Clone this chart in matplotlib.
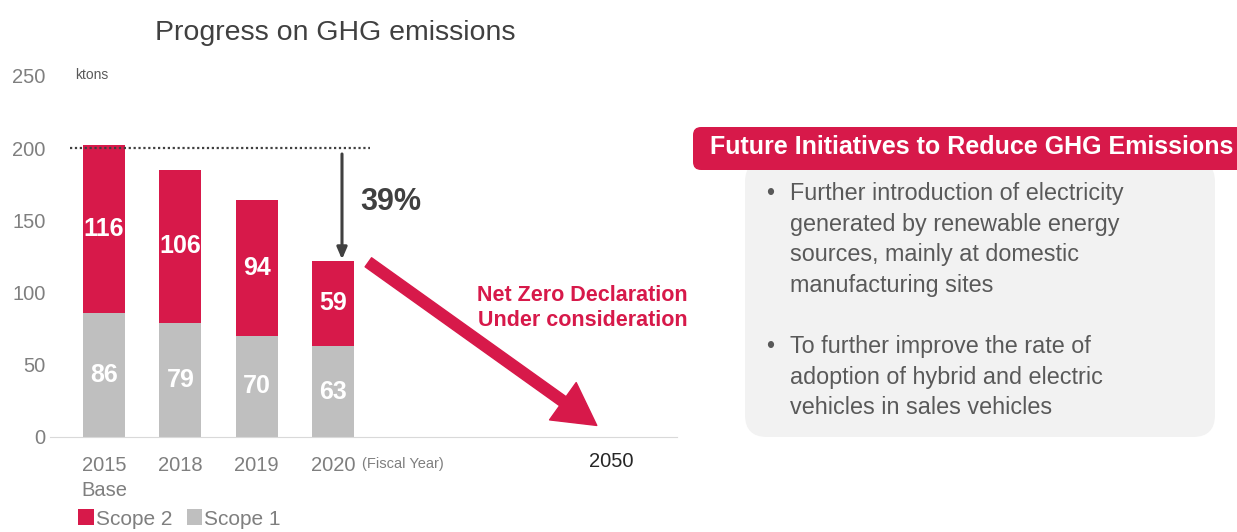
import matplotlib.pyplot as plt
from matplotlib.patches import FancyBboxPatch

plt.rcParams['font.family'] = ['Liberation Sans', 'DejaVu Sans']

# data
years = ['2015\nBase', '2018', '2019', '2020']
scope1 = [86, 79, 70, 63]
scope2 = [116, 106, 94, 59]
target_year = '2050'
reduction = '39%'
title = 'Progress on GHG emissions'
header = 'Future Initiatives to Reduce GHG Emissions'
bullets = [
    'Further introduction of electricity\ngenerated by renewable energy\nsources, mainly at domestic\nmanufacturing sites',
    'To further improve the rate of\nadoption of hybrid and electric\nvehicles in sales vehicles',
]

RED = '#D7194A'
GRAY = '#BFBFBF'
TXT = '#7F7F7F'
W, H = 1237, 532

fig = plt.figure(figsize=(W / 100, H / 100), dpi=100)
ax = fig.add_axes([50 / W, (H - 437) / H, 627 / W, 361 / H])

x = list(range(len(years)))
b1 = ax.bar(x, scope1, width=0.55, color=GRAY)
b2 = ax.bar(x, scope2, bottom=scope1, width=0.55, color=RED)
ax.bar_label(b1, label_type='center', color='white', fontsize=18, fontweight='bold')
ax.bar_label(b2, label_type='center', color='white', fontsize=18, fontweight='bold')

totals = [a + b for a, b in zip(scope1, scope2)]
ax.set_xlim(-0.707, 7.5)
ax.set_ylim(0, 250)
ax.set_yticks(range(0, 251, 50))
x_target = 6.64
ax.set_xticks(x + [x_target], years + [target_year])
ax.tick_params(length=0, labelsize=14.5, colors=TXT)
ax.tick_params(axis='x', pad=14)
ax.tick_params(axis='y', pad=3)
for lab in ax.get_xticklabels():
    lab.set_linespacing(1.35)
ax.get_xticklabels()[-1].set_color('#262626')
ax.get_xticklabels()[-1].set_y(0.012)
for s in ['top', 'right', 'left']:
    ax.spines[s].set_visible(False)
ax.spines['bottom'].set_color('#D9D9D9')
ax.patch.set_alpha(0)

# baseline level and reduction arrow
ax.hlines(totals[0] - 2, -0.445, 3.48, colors='#404040', linestyles=(0, (1, 1.2)), linewidth=1.6)
ax.annotate('', xy=(3.115, totals[-1] + 1), xytext=(3.115, totals[0] - 6),
            arrowprops=dict(arrowstyle='-|>,head_width=0.3,head_length=0.7',
                            color='#404040', lw=2.2, shrinkA=0, shrinkB=0))
ax.text(3.35, 163, reduction, fontsize=22, fontweight='bold', color='#404040', va='center')
ax.annotate('', xy=(6.45, 8), xytext=(3.46, totals[-1] - 1),
            arrowprops=dict(arrowstyle='simple,head_width=3.3,head_length=3.0,tail_width=0.8',
                            mutation_scale=10, color=RED, shrinkA=0, shrinkB=0))

ax.legend([b2, b1], ['Scope 2', 'Scope 1'], loc='center left',
          bbox_to_anchor=(78 / W, (H - 519) / H), bbox_transform=fig.transFigure,
          ncol=2, frameon=False, handlelength=0.75, handleheight=0.8,
          handletextpad=0.1, columnspacing=0.7, fontsize=15, labelcolor=TXT,
          borderpad=0, borderaxespad=0)

# overlay in pixel coordinates for the annotations and side panel
ov = fig.add_axes([0, 0, 1, 1], zorder=-1)
ov.set_xlim(0, W)
ov.set_ylim(H, 0)
ov.axis('off')

ov.text(155, 33, title, fontsize=20.5, color='#404040', va='center')
ov.text(75, 75, 'ktons', fontsize=10, color='#595959', va='center')
ov.text(362, 464, '(Fiscal Year)', fontsize=10.5, color=TXT, va='center')
fig.text(688 / W, 1 - 308 / H, 'Net Zero Declaration\nUnder consideration', fontsize=15.5,
         fontweight='bold', color=RED, ha='right', va='center', linespacing=1.22)

ov.add_patch(FancyBboxPatch((745, 160), 470, 277, boxstyle='round,pad=0,rounding_size=22',
                            facecolor='#F2F2F2', edgecolor='none'))
ov.add_patch(FancyBboxPatch((693, 127), 580, 43, boxstyle='round,pad=0,rounding_size=8',
                            facecolor=RED, edgecolor='none'))
fig.text(710 / W, 1 - 147 / H, header, fontsize=18, fontweight='bold', color='white', va='center')

for y0, b in zip([182, 335], bullets):
    fig.text(766 / W, 1 - y0 / H, '\u2022', fontsize=16.5, color='#595959', va='top')
    fig.text(790 / W, 1 - y0 / H, b, fontsize=16.8, color='#595959', va='top', linespacing=1.42)

fig.savefig('out.png', dpi=100)
